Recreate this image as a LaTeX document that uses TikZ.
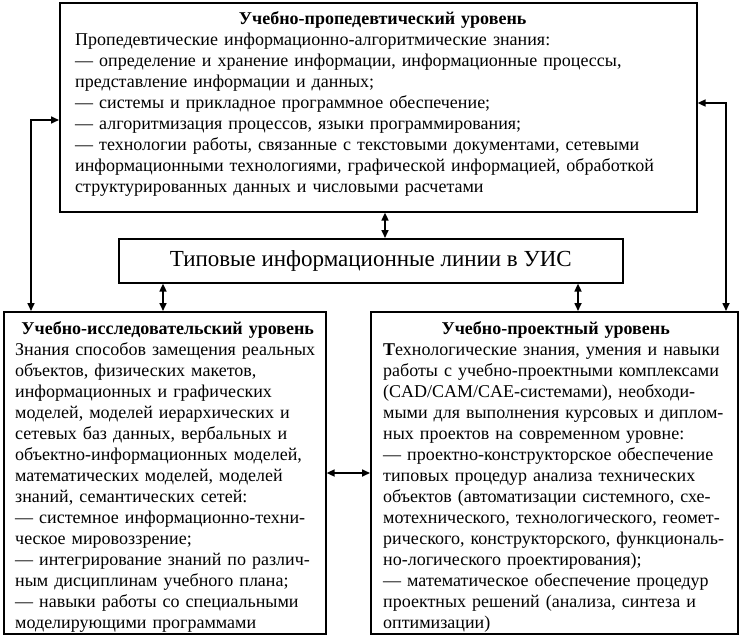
\documentclass[tikz,border=0pt]{standalone}
\usepackage{fontspec}
\setmainfont{Liberation Serif}
\usetikzlibrary{arrows.meta,calc}
\begin{document}
\begin{tikzpicture}[x=1pt,y=-1pt,
  box/.style={draw, line width=1.6pt, inner sep=0pt},
  txt/.style={inner sep=0pt, align=left, font=\fontsize{18}{21}\selectfont},
  arr/.style={line width=1.6pt, {Triangle[length=8pt,width=7pt]}-{Triangle[length=8pt,width=7pt]}}]
\useasboundingbox (0,0) rectangle (741,637);
% boxes
\node[box, minimum width=637pt, minimum height=209pt, anchor=north west] (top) at (59,2) {};
\node[box, minimum width=504pt, minimum height=44pt, anchor=north west, font=\fontsize{23}{27}\selectfont] (mid) at (118,238) {Типовые информационные линии в УИС};
\node[box, minimum width=322pt, minimum height=322pt, anchor=north west] (lbox) at (3,311) {};
\node[box, minimum width=367pt, minimum height=322pt, anchor=north west] (rbox) at (370,311) {};
% texts
\node[txt, text width=615pt, anchor=north west] (toptxt) at ([shift={(16pt,-9pt)}]top.north west) {%
\makebox[\linewidth]{\bfseries Учебно-пропедевтический уровень}\\
Пропедевтические информационно-алгоритмические знания:\\
\makebox[\linewidth][s]{— определение и хранение информации, информационные процессы,}\\
представление информации и данных;\\
— системы и прикладное программное обеспечение;\\
— алгоритмизация процессов, языки программирования;\\
— технологии работы, связанные с текстовыми документами, сетевыми\\
информационными технологиями, графической информацией, обработкой\\
структурированных данных и числовыми расчетами};
\node[txt, text width=305pt, anchor=north west] (ltxt) at ([shift={(12pt,-10pt)}]lbox.north west) {%
\makebox[\linewidth]{\bfseries Учебно-исследовательский уровень}\\
Знания способов замещения реальных\\
объектов, физических макетов,\\
информационных и графических\\
моделей, моделей иерархических и\\
сетевых баз данных, вербальных и\\
объектно-информационных моделей,\\
математических моделей, моделей\\
знаний, семантических сетей:\\
— системное информационно-техни-\\
ческое мировоззрение;\\
— интегрирование знаний по различ-\\
ным дисциплинам учебного плана;\\
— навыки работы со специальными\\
моделирующими программами};
\node[txt, text width=345pt, anchor=north west] (rtxt) at ([shift={(13pt,-10pt)}]rbox.north west) {%
\makebox[\linewidth]{\bfseries Учебно-проектный уровень}\\
{\bfseries Т}ехнологические знания, умения и навыки\\
работы с учебно-проектными комплексами\\
(CAD/CAM/CAE-системами), необходи-\\
мыми для выполнения курсовых и диплом-\\
ных проектов на современном уровне:\\
— проектно-конструкторское обеспечение\\
типовых процедур анализа технических\\
объектов (автоматизации системного, схе-\\
мотехнического, технологического, геомет-\\
рического, конструкторского, функциональ-\\
но-логического проектирования);\\
— математическое обеспечение процедур\\
проектных решений (анализа, синтеза и\\
оптимизации)};
% connectors
\coordinate (cl) at (31,120);
\coordinate (cr) at (726,103);
\coordinate (cc) at (385,0);
\coordinate (cml) at (163,0);
\coordinate (cmr) at (578,0);
\coordinate (ch) at (0,473);
\draw[arr] (top.west |- cl) -| (lbox.north -| cl);
\draw[arr] (top.east |- cr) -| (rbox.north -| cr);
\draw[arr] (top.south -| cc) -- (mid.north -| cc);
\draw[arr] (mid.south -| cml) -- (lbox.north -| cml);
\draw[arr] (mid.south -| cmr) -- (rbox.north -| cmr);
\draw[arr] (lbox.east |- ch) -- (rbox.west |- ch);
\end{tikzpicture}
\end{document}
